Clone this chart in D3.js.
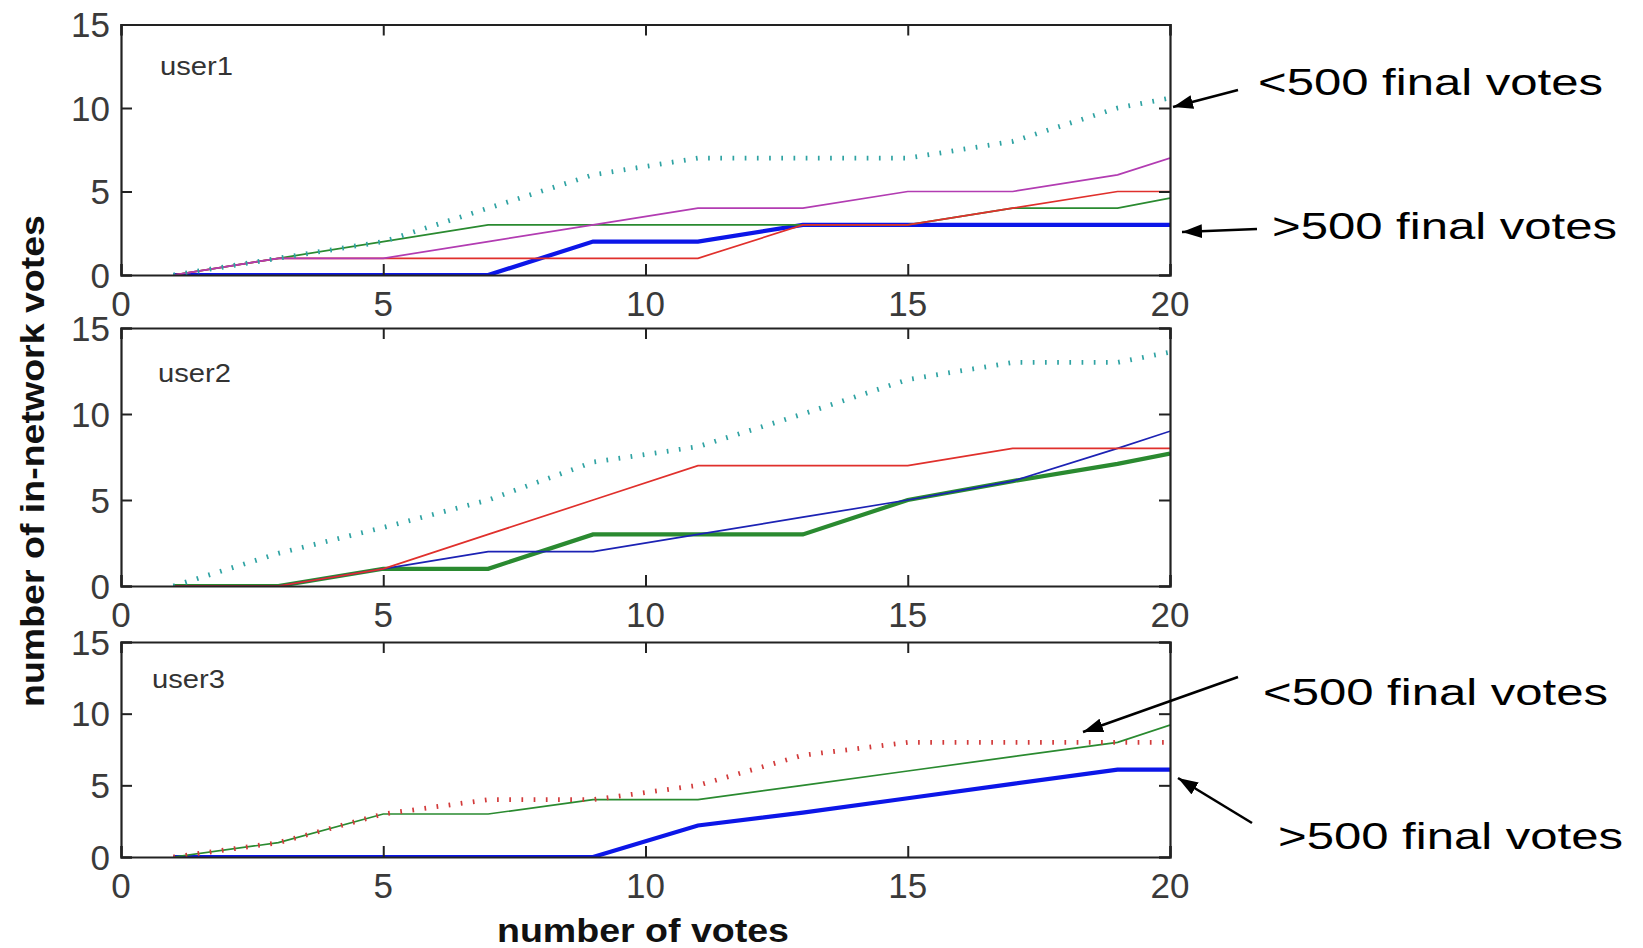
<!DOCTYPE html>
<html>
<head>
<meta charset="utf-8">
<script src="https://cdn.jsdelivr.net/npm/d3@7/dist/d3.min.js"></script>
<style>
  html, body { margin: 0; padding: 0; background: #fff; }
  svg { display: block; }
</style>
</head>
<body>
<svg id="chart" width="1643" height="948"></svg>
<script>
// ---------------- DATA ----------------
const votes = [1, 3, 5, 7, 9, 11, 13, 15, 17, 19, 20];
const users = ["user1", "user2", "user3"];
const xTicks = [0, 5, 10, 15, 20];
const yTicks = [0, 5, 10, 15];

// user1
const u1Cyan    = [0, 1, 2, 4, 6, 7, 7, 7, 8, 10, 10.6];
const u1Magenta = [0, 1, 1, 2, 3, 4, 4, 5, 5, 6, 7];
const u1Red     = [0, 1, 1, 1, 1, 1, 3, 3, 4, 5, 5];
const u1Green   = [0, 1, 2, 3, 3, 3, 3, 3, 4, 4, 4.6];
const u1Blue    = [0, 0, 0, 0, 2, 2, 3, 3, 3, 3, 3];
// user2
const u2Cyan    = [0, 1.9, 3.4, 5, 7.2, 8.1, 10, 12, 13, 13, 13.6];
const u2Red     = [0, 0, 1, 3, 5, 7, 7, 7, 8, 8, 8];
const u2Green   = [0, 0, 1, 1, 3, 3, 3, 5, 6.1, 7.1, 7.7];
const u2Blue    = [0, 0, 1, 2, 2, 3, 4, 5, 6.1, 8, 9];
// user3
const u3Red     = [0, 1, 3, 4, 4, 5, 7.1, 8, 8, 8, 8];
const u3Green   = [0, 1, 3, 3, 4, 4, 5, 6, 7, 8, 9.2];
const u3Blue    = [0, 0, 0, 0, 0, 2.2, 3.1, 4.1, 5.1, 6.1, 6.1];

const xTitle = "number of votes";
const yTitle = "number of in-network votes";
const annLow = "<500 final votes";
const annHigh = ">500 final votes";

// ---------------- STYLES ----------------
const C = {
  cyan: "#2fa3a3", magenta: "#b23cb2", red: "#e0302c", redDot: "#d23a3a",
  green: "#2a8a30", blueThick: "#0c16e8", blueThin: "#1c22b4"
};
const thin = {w: 1.7, dash: null};
const thick = {w: 4.2, dash: null};
const dotted = {w: 4.8, dash: "1.7,10.5"};

const panels = [
  {name: users[0], y0: 275, y15: 24.5, labelY: 75, labelX: 160,
   series: [
     {v: u1Blue, c: C.blueThick, s: thick},
     {v: u1Green, c: C.green, s: thin},
     {v: u1Red, c: C.red, s: thin},
     {v: u1Magenta, c: C.magenta, s: thin},
     {v: u1Cyan, c: C.cyan, s: dotted}
   ]},
  {name: users[1], y0: 586, y15: 328, labelY: 382, labelX: 158,
   series: [
     {v: u2Green, c: C.green, s: thick},
     {v: u2Blue, c: C.blueThin, s: thin},
     {v: u2Red, c: C.red, s: thin},
     {v: u2Cyan, c: C.cyan, s: dotted}
   ]},
  {name: users[2], y0: 857, y15: 642, labelY: 688, labelX: 152,
   series: [
     {v: u3Blue, c: C.blueThick, s: thick},
     {v: u3Green, c: C.green, s: thin},
     {v: u3Red, c: C.redDot, s: dotted}
   ]}
];

const svg = d3.select("#chart");
const x = d3.scaleLinear().domain([0, 20]).range([121, 1170]);
const tickFont = "'Liberation Sans', Arial, sans-serif";
const tickLen = 11;

panels.forEach(p => {
  const y = d3.scaleLinear().domain([0, 15]).range([p.y0, p.y15]);
  const g = svg.append("g");

  const clipId = "clip-" + p.name;
  svg.append("clipPath").attr("id", clipId).append("rect")
    .attr("x", x(0)).attr("y", y(15)).attr("width", x(20) - x(0)).attr("height", y(0) - y(15));

  const line = d3.line().x((d, i) => x(votes[i])).y(d => y(d));
  const lg = g.append("g").attr("clip-path", `url(#${clipId})`);
  p.series.forEach(s => {
    lg.append("path").datum(s.v)
      .attr("d", line)
      .attr("fill", "none")
      .attr("stroke", s.c)
      .attr("stroke-width", s.s.w)
      .attr("stroke-linejoin", "miter")
      .attr("stroke-dasharray", s.s.dash);
  });

  // axes (inward ticks on all four sides)
  const axB = d3.axisBottom(x).tickValues(xTicks).tickSize(-tickLen).tickFormat("");
  const axT = d3.axisTop(x).tickValues(xTicks).tickSize(-tickLen).tickFormat("");
  const axL = d3.axisLeft(y).tickValues(yTicks).tickSize(-tickLen).tickFormat("");
  const axR = d3.axisRight(y).tickValues(yTicks).tickSize(-tickLen).tickFormat("");
  [[axB, `translate(0,${y(0)})`], [axT, `translate(0,${y(15)})`],
   [axL, `translate(${x(0)},0)`], [axR, `translate(${x(20)},0)`]].forEach(([ax, tr]) => {
    const a = g.append("g").attr("transform", tr).call(ax);
    a.selectAll("path.domain").attr("stroke", "#222").attr("stroke-width", 2.2);
    a.selectAll(".tick line").attr("stroke", "#222").attr("stroke-width", 2);
  });

  // tick labels
  g.selectAll(".xl").data(xTicks).enter().append("text")
    .attr("x", d => x(d)).attr("y", y(0) + 41)
    .attr("text-anchor", "middle")
    .attr("font-family", tickFont).attr("font-size", 35).attr("fill", "#3a3a3a")
    .text(d => d);
  g.selectAll(".yl").data(yTicks).enter().append("text")
    .attr("x", 110).attr("y", d => y(d) + 12.5)
    .attr("text-anchor", "end")
    .attr("font-family", tickFont).attr("font-size", 35).attr("fill", "#3a3a3a")
    .text(d => d);

  // panel label
  g.append("text").attr("x", p.labelX).attr("y", p.labelY)
    .attr("font-family", tickFont).attr("font-size", 25).attr("fill", "#333")
    .attr("textLength", 73).attr("lengthAdjust", "spacingAndGlyphs")
    .text(p.name);
});

// axis titles
svg.append("text").attr("x", 643).attr("y", 942)
  .attr("text-anchor", "middle")
  .attr("font-family", tickFont).attr("font-weight", "bold").attr("font-size", 34).attr("fill", "#111")
  .attr("textLength", 292).attr("lengthAdjust", "spacingAndGlyphs")
  .text(xTitle);
svg.append("text").attr("transform", "translate(44,461) rotate(-90)")
  .attr("text-anchor", "middle")
  .attr("font-family", tickFont).attr("font-weight", "bold").attr("font-size", 34).attr("fill", "#111")
  .attr("textLength", 492).attr("lengthAdjust", "spacingAndGlyphs")
  .text(yTitle);

// annotations
const defs = svg.append("defs");
defs.append("marker").attr("id", "ah")
  .attr("markerUnits", "userSpaceOnUse")
  .attr("viewBox", "0 0 20 14").attr("refX", 20).attr("refY", 7)
  .attr("markerWidth", 20).attr("markerHeight", 14).attr("orient", "auto")
  .append("path").attr("d", "M0,0 L20,7 L0,14 Z").attr("fill", "#000");

const annotations = [
  {text: annLow,  tx: 1258, ty: 95,  x1: 1238, y1: 90,  x2: 1173, y2: 107},
  {text: annHigh, tx: 1272, ty: 239, x1: 1257, y1: 229, x2: 1182, y2: 232},
  {text: annLow,  tx: 1263, ty: 705, x1: 1238, y1: 677, x2: 1083, y2: 732},
  {text: annHigh, tx: 1278, ty: 849, x1: 1252, y1: 823, x2: 1178, y2: 778}
];
annotations.forEach(a => {
  svg.append("line").attr("x1", a.x1).attr("y1", a.y1).attr("x2", a.x2).attr("y2", a.y2)
    .attr("stroke", "#000").attr("stroke-width", 2.6).attr("marker-end", "url(#ah)");
  svg.append("text").attr("x", a.tx).attr("y", a.ty)
    .attr("font-family", tickFont).attr("font-size", 37).attr("fill", "#000")
    .attr("textLength", 345).attr("lengthAdjust", "spacingAndGlyphs")
    .text(a.text);
});
</script>
</body>
</html>
